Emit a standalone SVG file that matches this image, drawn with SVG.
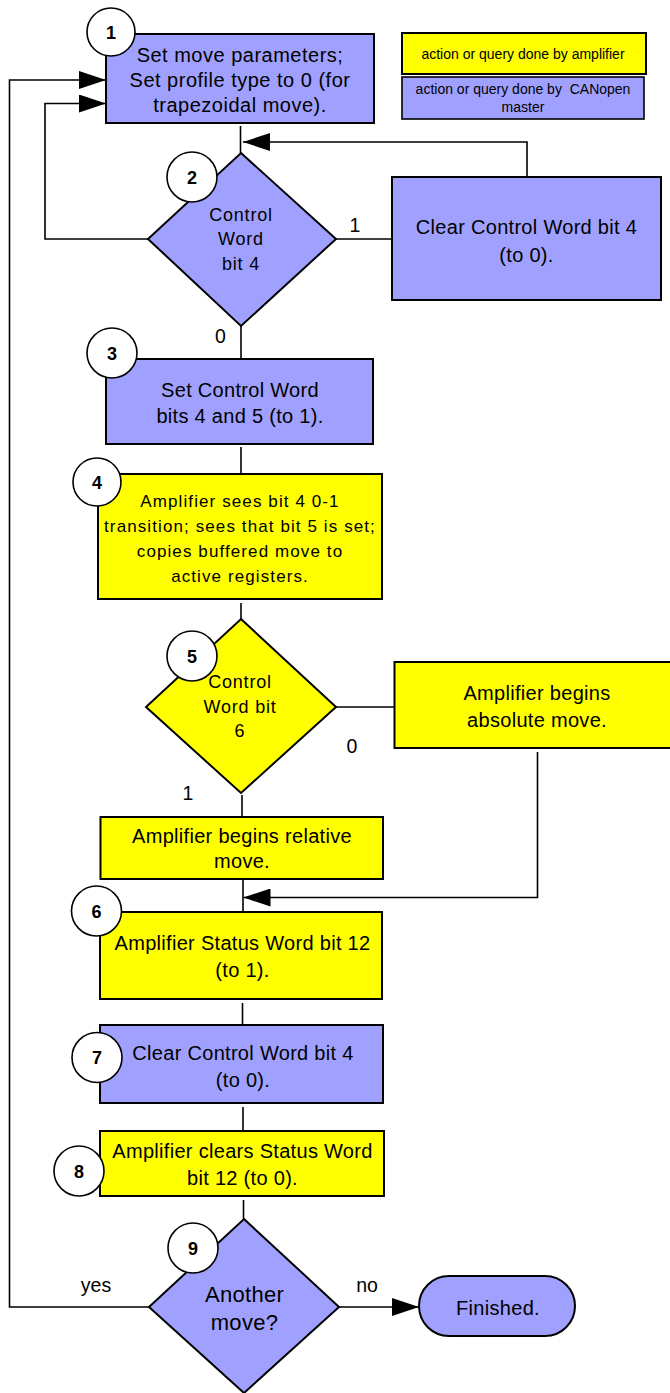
<svg xmlns="http://www.w3.org/2000/svg" width="670" height="1393" viewBox="0 0 670 1393">
<style>
  .blue{fill:#a0a0ff;stroke:#000;stroke-width:2}
  .yel{fill:#ffff00;stroke:#000;stroke-width:2}
  .num{fill:#fff;stroke:#000;stroke-width:1.6}
  .t{font-family:"Liberation Sans",Arial,sans-serif;font-size:20px;fill:#000;text-anchor:middle;letter-spacing:0.3px}
  .dt{font-family:"Liberation Sans",Arial,sans-serif;font-size:18px;fill:#000;text-anchor:middle;letter-spacing:0.8px}
  .t4{font-family:"Liberation Sans",Arial,sans-serif;font-size:17px;fill:#000;text-anchor:middle;letter-spacing:1.1px}
  .n{font-family:"Liberation Sans",Arial,sans-serif;font-size:18px;font-weight:bold;fill:#000;text-anchor:middle}
  .lb{font-family:"Liberation Sans",Arial,sans-serif;font-size:19.5px;fill:#000;text-anchor:middle}
  .lg{font-family:"Liberation Sans",Arial,sans-serif;font-size:14px;fill:#000;text-anchor:middle;white-space:pre}
  .c{fill:none;stroke:#000;stroke-width:1.6}
</style>
<defs>
  <marker id="arr" markerUnits="userSpaceOnUse" markerWidth="27" markerHeight="18" refX="27" refY="9" orient="auto">
    <path d="M0,0 L27,9 L0,18 Z" fill="#000"/>
  </marker>
</defs>

<g id="connectors">
  <path class="c" d="M240.5,126 V153"/>
  <path class="c" d="M527,177 V142 H243" marker-end="url(#arr)"/>
  <path class="c" d="M148,239 H45 V103.5 H106" marker-end="url(#arr)"/>
  <path class="c" d="M336,239 H392"/>
  <path class="c" d="M241,326 V359"/>
  <path class="c" d="M241,447 V474"/>
  <path class="c" d="M241,603 V619"/>
  <path class="c" d="M336,707 H394.5"/>
  <path class="c" d="M242,795 V817"/>
  <path class="c" d="M537.5,752 V897.5 H243.5" marker-end="url(#arr)"/>
  <path class="c" d="M243,879 V912"/>
  <path class="c" d="M242.5,1003 V1025"/>
  <path class="c" d="M243,1107 V1131"/>
  <path class="c" d="M243.5,1200 V1219"/>
  <path class="c" d="M149,1307 H9.5 V80 H106" marker-end="url(#arr)"/>
  <path class="c" d="M339,1307 H419" marker-end="url(#arr)"/>
  <text class="lb" x="355" y="232">1</text>
  <text class="lb" x="220.5" y="343">0</text>
  <text class="lb" x="352" y="753">0</text>
  <text class="lb" x="188" y="800">1</text>
  <text class="lb" x="96" y="1292">yes</text>
  <text class="lb" x="367" y="1292">no</text>
</g>

<g id="legend">
  <rect class="yel" x="402" y="33" width="244" height="41"/>
  <text class="lg" x="523" y="58.5">action or query done by amplifier</text>
  <rect class="blue" x="402" y="77" width="242" height="42" style="stroke-width:1.6"/>
  <text class="lg" x="523" y="94">action or query done by  CANopen</text>
  <text class="lg" x="523" y="111.5">master</text>
</g>

<g id="node1">
  <rect class="blue" x="106" y="34" width="268" height="89"/>
  <text class="t" x="240" y="62" style="letter-spacing:0.5px">Set move parameters;</text>
  <text class="t" x="240" y="87" style="letter-spacing:0.5px">Set profile type to 0 (for</text>
  <text class="t" x="240" y="112" style="letter-spacing:0.5px">trapezoidal move).</text>
  <circle class="num" cx="111" cy="32" r="24"/>
  <text class="n" x="111" y="38.5">1</text>
</g>

<g id="node2">
  <polygon class="blue" points="241,153 336,239 241,326 148,239"/>
  <text class="dt" x="241" y="221">Control</text>
  <text class="dt" x="241" y="245">Word</text>
  <text class="dt" x="241" y="269.5">bit 4</text>
  <circle class="num" cx="192" cy="177" r="25"/>
  <text class="n" x="192" y="183.5">2</text>
</g>

<g id="nodeClear">
  <rect class="blue" x="392" y="177" width="269" height="123"/>
  <text class="t" x="526.5" y="234">Clear Control Word bit 4</text>
  <text class="t" x="526.5" y="262">(to 0).</text>
</g>

<g id="node3">
  <rect class="blue" x="106" y="359" width="267" height="85"/>
  <text class="t" x="240" y="397">Set Control Word</text>
  <text class="t" x="240" y="423">bits 4 and 5 (to 1).</text>
  <circle class="num" cx="112" cy="353" r="25"/>
  <text class="n" x="112" y="359.5">3</text>
</g>

<g id="node4">
  <rect class="yel" x="98" y="474" width="284" height="125"/>
  <text class="t4" x="240" y="507">Amplifier sees bit 4 0-1</text>
  <text class="t4" x="240" y="532">transition; sees that bit 5 is set;</text>
  <text class="t4" x="240" y="557">copies buffered move to</text>
  <text class="t4" x="240" y="582">active registers.</text>
  <circle class="num" cx="97" cy="482" r="24"/>
  <text class="n" x="97" y="488.5">4</text>
</g>

<g id="node5">
  <polygon class="yel" points="241,619 336,707 241,793 146,707"/>
  <text class="dt" x="240" y="688">Control</text>
  <text class="dt" x="240" y="713">Word bit</text>
  <text class="dt" x="240" y="737">6</text>
  <circle class="num" cx="192" cy="656" r="25"/>
  <text class="n" x="192" y="662.5">5</text>
</g>

<g id="nodeAbs">
  <rect class="yel" x="394.5" y="662" width="290" height="86"/>
  <text class="t" x="537" y="700">Amplifier begins</text>
  <text class="t" x="537" y="727">absolute move.</text>
</g>

<g id="nodeRel">
  <rect class="yel" x="100.5" y="817" width="282.5" height="62"/>
  <text class="t" x="242" y="843">Amplifier begins relative</text>
  <text class="t" x="242" y="868">move.</text>
</g>

<g id="node6">
  <rect class="yel" x="100" y="912" width="282" height="87"/>
  <text class="t" x="242.5" y="950">Amplifier Status Word bit 12</text>
  <text class="t" x="242.5" y="977">(to 1).</text>
  <circle class="num" cx="96.5" cy="911" r="25"/>
  <text class="n" x="96.5" y="917.5">6</text>
</g>

<g id="node7">
  <rect class="blue" x="100" y="1025" width="283" height="78"/>
  <text class="t" x="243" y="1060">Clear Control Word bit 4</text>
  <text class="t" x="243" y="1087">(to 0).</text>
  <circle class="num" cx="97" cy="1057.5" r="25"/>
  <text class="n" x="97" y="1064">7</text>
</g>

<g id="node8">
  <rect class="yel" x="100" y="1131" width="284" height="65"/>
  <text class="t" x="242.5" y="1158">Amplifier clears Status Word</text>
  <text class="t" x="242.5" y="1185">bit 12 (to 0).</text>
  <circle class="num" cx="79" cy="1171" r="25"/>
  <text class="n" x="79" y="1177.5">8</text>
</g>

<g id="node9">
  <polygon class="blue" points="244,1219 339,1307 244,1393 149,1307"/>
  <text class="t" x="244.5" y="1302" style="font-size:22px">Another</text>
  <text class="t" x="244.5" y="1330" style="font-size:22px">move?</text>
  <circle class="num" cx="193" cy="1248" r="25"/>
  <text class="n" x="193" y="1254.5">9</text>
</g>

<g id="nodeFinished">
  <rect class="blue" x="419" y="1276" width="156" height="60" rx="30" ry="30"/>
  <text class="t" x="498" y="1315">Finished.</text>
</g>
</svg>
